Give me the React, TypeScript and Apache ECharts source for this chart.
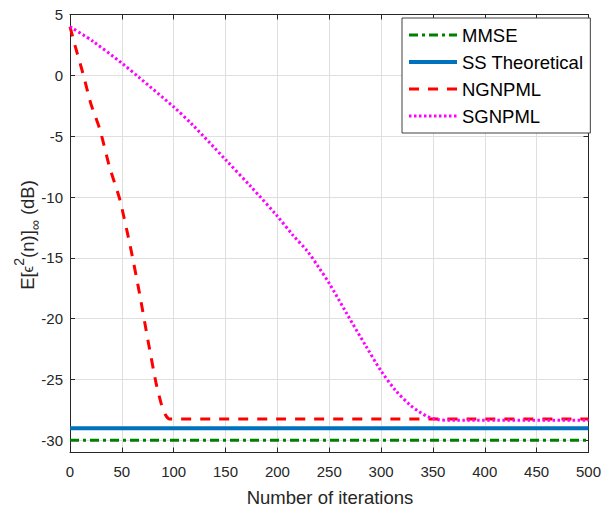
import React, { useEffect, useRef } from "react";
import * as echarts from "echarts";

const xTicks = [0, 50, 100, 150, 200, 250, 300, 350, 400, 450, 500];
const yTicks = [-30, -25, -20, -15, -10, -5, 0, 5];

const mmseX = [0, 500];
const mmseY = [-30, -30];
const ssX = [0, 500];
const ssY = [-29, -29];

const ngX = [0, 5, 13, 20, 29, 38, 48, 58, 67, 75, 83, 88, 92, 96, 500];
const ngY = [4, 2.4, 0, -2.3, -4.5, -7.5, -10.2, -14, -17.9, -21.7, -25.3, -27.0, -27.9, -28.25, -28.25];

const sgX = [0, 22, 50, 67, 100, 118, 150, 175, 200, 215, 229, 240, 250, 267, 285, 300, 314, 328, 336, 345, 355, 370, 500];
const sgY = [4, 2.8, 1.0, -0.2, -2.6, -4.05, -6.93, -9.2, -11.58, -13.14, -14.46, -15.8, -17.1, -19.6, -22.2, -24.3, -25.9, -27.1, -27.6, -28.05, -28.3, -28.35, -28.35];

const names = ["MMSE", "SS Theoretical", "NGNPML", "SGNPML"];

const pairs = (xs: number[], ys: number[]) => xs.map((x, i) => [x, ys[i]]);

const FONT = "'Liberation Sans', Arial, Helvetica, sans-serif";
const AX = "#262626";

export default function App() {
  const ref = useRef<HTMLDivElement>(null);
  useEffect(() => {
    if (!ref.current) return;
    const chart = echarts.init(ref.current, undefined, { renderer: "svg" });
    const axisText = { color: AX, fontSize: 15, fontFamily: FONT };
    chart.setOption({
      animation: false,
      backgroundColor: "#ffffff",
      grid: { left: 70, right: 13.5, top: 14.5, bottom: 55.5, containLabel: false },
      xAxis: [
        {
          type: "value",
          min: 0,
          max: 500,
          interval: 50,
          position: "bottom",
          axisLine: { show: true, onZero: false, lineStyle: { color: AX, width: 1 } },
          axisTick: { show: true, inside: true, length: 5, lineStyle: { color: AX } },
          axisLabel: { ...axisText, margin: 11 },
          splitLine: { show: true, lineStyle: { color: "#dfdfdf", width: 1 } },
        },
        {
          type: "value",
          min: 0,
          max: 500,
          interval: 50,
          position: "top",
          axisLine: { show: true, onZero: false, lineStyle: { color: AX, width: 1 } },
          axisTick: { show: true, inside: true, length: 5, lineStyle: { color: AX } },
          axisLabel: { show: false },
          splitLine: { show: false },
        },
      ],
      yAxis: [
        {
          type: "value",
          min: -31,
          max: 5,
          position: "left",
          axisLine: { show: true, onZero: false, lineStyle: { color: AX, width: 1 } },
          axisTick: { show: true, inside: true, length: 5, customValues: yTicks, lineStyle: { color: AX } },
          axisLabel: { ...axisText, margin: 7, customValues: yTicks },
          splitLine: { show: true, lineStyle: { color: "#dfdfdf", width: 1 } },
        },
        {
          type: "value",
          min: -31,
          max: 5,
          position: "right",
          axisLine: { show: true, onZero: false, lineStyle: { color: AX, width: 1 } },
          axisTick: { show: true, inside: true, length: 5, customValues: yTicks, lineStyle: { color: AX } },
          axisLabel: { show: false },
          splitLine: { show: false },
        },
      ],
      legend: {
        orient: "vertical",
        left: 402,
        top: 18,
        padding: [7, 7, 7, 5],
        itemWidth: 48,
        itemHeight: 20,
        itemGap: 7,
        backgroundColor: "#ffffff",
        borderColor: "#404040",
        borderWidth: 1,
        borderRadius: 0,
        itemStyle: { opacity: 0 },
        lineStyle: { width: "inherit", type: "inherit", color: "inherit" },
        textStyle: { color: "#000000", fontSize: 18.5, fontFamily: FONT, lineHeight: 20 },
        data: names,
      },
      series: [
        {
          name: names[0],
          type: "line",
          data: pairs(mmseX, mmseY),
          symbol: "none",
          lineStyle: { color: "#008000", width: 3, type: [9, 4, 3, 4] },
          itemStyle: { color: "#008000" },
          z: 2,
        },
        {
          name: names[1],
          type: "line",
          data: pairs(ssX, ssY),
          symbol: "none",
          lineStyle: { color: "#0072BD", width: 4, type: "solid" },
          itemStyle: { color: "#0072BD" },
          z: 3,
        },
        {
          name: names[2],
          type: "line",
          data: pairs(ngX, ngY),
          symbol: "none",
          smooth: 0.2,
          lineStyle: { color: "#FF0000", width: 3, type: [10, 9] },
          itemStyle: { color: "#FF0000" },
          z: 4,
        },
        {
          name: names[3],
          type: "line",
          data: pairs(sgX, sgY),
          symbol: "none",
          smooth: 0.3,
          lineStyle: { color: "#FF00FF", width: 3, type: [2.5, 2.5] },
          itemStyle: { color: "#FF00FF" },
          z: 5,
        },
      ],
      graphic: [
        {
          type: "text",
          x: 330,
          y: 497.5,
          style: {
            text: "Number of iterations",
            fill: AX,
            font: `18.5px ${FONT}`,
            align: "center",
            verticalAlign: "middle",
          },
        },
        {
          type: "text",
          x: 27,
          y: 235,
          rotation: Math.PI / 2,
          style: {
            text: "{a|E[}{e|ϵ}{s|2}{a|(n)]}{b|∞}{a| (dB)}",
            fill: AX,
            align: "center",
            verticalAlign: "middle",
            rich: {
              a: { fontSize: 18.5, fontFamily: FONT, fill: AX, lineHeight: 30, verticalAlign: "middle" },
              e: { fontSize: 15, fontFamily: FONT, fill: AX, lineHeight: 30, verticalAlign: "middle" },
              s: { fontSize: 14, fontFamily: FONT, fill: AX, lineHeight: 8, verticalAlign: "top" },
              b: { fontSize: 14, fontFamily: FONT, fill: AX, lineHeight: 13, verticalAlign: "bottom" },
            },
          },
        },
      ],
    });
    return () => chart.dispose();
  }, []);
  return <div ref={ref} style={{ width: 604, height: 508, position: "absolute", left: 0, top: 0 }} />;
}
